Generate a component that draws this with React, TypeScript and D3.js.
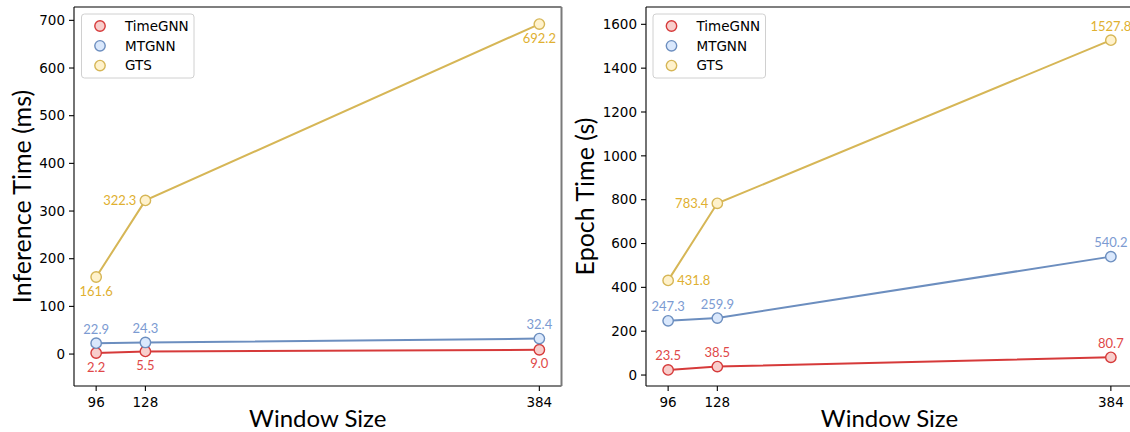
import React from "react";
import * as d3 from "d3";

const windowSizes = [96, 128, 384];
const seriesNames = ["TimeGNN", "MTGNN", "GTS"];

const inferenceTimeGNN = [2.2, 5.5, 9.0];
const inferenceMTGNN = [22.9, 24.3, 32.4];
const inferenceGTS = [161.6, 322.3, 692.2];

const epochTimeGNN = [23.5, 38.5, 80.7];
const epochMTGNN = [247.3, 259.9, 540.2];
const epochGTS = [431.8, 783.4, 1527.8];

const inferenceTicks = [0, 100, 200, 300, 400, 500, 600, 700];
const epochTicks = [0, 200, 400, 600, 800, 1000, 1200, 1400, 1600];

const styles = [
  { line: "#d63a3a", fill: "#f8cecc", edge: "#d63a3a", text: "#e04848" },
  { line: "#6c8ebf", fill: "#dae8fc", edge: "#6c8ebf", text: "#7c9bd2" },
  { line: "#d6b656", fill: "#fff2cc", edge: "#d6b656", text: "#e0b030" },
];

type Place = "above" | "below" | "left" | "right";

interface PanelProps {
  left: number;
  right: number;
  top: number;
  bottom: number;
  yDomain: [number, number];
  ticks: number[];
  data: number[][];
  places: Place[][];
  ylabel: string;
  ylabelX: number;
  rightSpineGray: boolean;
  legendX: number;
}

const TICK_FONT = "'DejaVu Sans', sans-serif";
const LABEL_FONT = "Lato, 'Open Sans', sans-serif";

function Panel(p: PanelProps) {
  const x = d3.scaleLinear().domain([81.6, 398.4]).range([p.left, p.right]);
  const y = d3.scaleLinear().domain(p.yDomain).range([p.bottom, p.top]);
  const line = d3
    .line<number>()
    .x((_, i) => x(windowSizes[i]))
    .y((d) => y(d));
  const off = 14;
  return (
    <g>
      {p.data.map((vals, si) => (
        <path
          key={"l" + si}
          d={line(vals) || ""}
          fill="none"
          stroke={styles[si].line}
          strokeWidth={2}
        />
      ))}
      {p.data.map((vals, si) =>
        vals.map((v, i) => (
          <circle
            key={"c" + si + "-" + i}
            cx={x(windowSizes[i])}
            cy={y(v)}
            r={5.2}
            fill={styles[si].fill}
            stroke={styles[si].edge}
            strokeWidth={1.4}
          />
        ))
      )}
      {p.data.map((vals, si) =>
        vals.map((v, i) => {
          const pl = p.places[si][i];
          const px = x(windowSizes[i]);
          const py = y(v);
          let tx = px;
          let ty = py;
          let anchor: "start" | "middle" | "end" = "middle";
          if (pl === "above") ty = py - off;
          if (pl === "below") ty = py + off;
          if (pl === "left") {
            tx = px - 9;
            anchor = "end";
          }
          if (pl === "right") {
            tx = px + 9;
            anchor = "start";
          }
          return (
            <text
              key={"t" + si + "-" + i}
              x={tx}
              y={ty}
              dy="0.35em"
              textAnchor={anchor}
              fontFamily={LABEL_FONT}
              fontSize={13}
              fill={styles[si].text}
            >
              {v.toFixed(1)}
            </text>
          );
        })
      )}
      <line x1={p.left} x2={p.right} y1={p.top} y2={p.top} stroke="#000" strokeWidth={1.1} />
      <line x1={p.left} x2={p.right} y1={p.bottom} y2={p.bottom} stroke="#000" strokeWidth={1.1} />
      <line x1={p.left} x2={p.left} y1={p.top} y2={p.bottom} stroke="#000" strokeWidth={1.1} />
      <line
        x1={p.right}
        x2={p.right}
        y1={p.top}
        y2={p.bottom}
        stroke={p.rightSpineGray ? "#7a7a7a" : "#000"}
        strokeWidth={p.rightSpineGray ? 2 : 1.1}
      />
      {p.ticks.map((t) => (
        <g key={"yt" + t}>
          <line x1={p.left - 5} x2={p.left} y1={y(t)} y2={y(t)} stroke="#000" strokeWidth={1.1} />
          <text
            x={p.left - 9}
            y={y(t)}
            dy="0.35em"
            textAnchor="end"
            fontFamily={TICK_FONT}
            fontSize={13.5}
            fill="#000"
          >
            {t}
          </text>
        </g>
      ))}
      {windowSizes.map((w) => (
        <g key={"xt" + w}>
          <line x1={x(w)} x2={x(w)} y1={p.bottom} y2={p.bottom + 5} stroke="#000" strokeWidth={1.1} />
          <text
            x={x(w)}
            y={p.bottom + 21}
            textAnchor="middle"
            fontFamily={TICK_FONT}
            fontSize={13.5}
            fill="#000"
          >
            {w}
          </text>
        </g>
      ))}
      <text
        x={(p.left + p.right) / 2}
        y={427}
        textAnchor="middle"
        fontFamily={LABEL_FONT}
        fontSize={24}
        fill="#000"
      >
        Window Size
      </text>
      <text
        transform={`translate(${p.ylabelX},${(p.top + p.bottom) / 2}) rotate(-90)`}
        textAnchor="middle"
        dy="0.35em"
        fontFamily={LABEL_FONT}
        fontSize={25}
        fill="#000"
      >
        {p.ylabel}
      </text>
      <rect
        x={p.legendX}
        y={14}
        width={112.5}
        height={64}
        rx={3}
        fill="#fff"
        fillOpacity={0.85}
        stroke="#d0d0d0"
        strokeWidth={1}
      />
      {seriesNames.map((n, si) => (
        <g key={"lg" + si}>
          <circle
            cx={p.legendX + 18.5}
            cy={26 + si * 19.8}
            r={5.2}
            fill={styles[si].fill}
            stroke={styles[si].edge}
            strokeWidth={1.4}
          />
          <text
            x={p.legendX + 43.5}
            y={26 + si * 19.8}
            dy="0.35em"
            fontFamily={TICK_FONT}
            fontSize={13.5}
            fill="#000"
          >
            {n}
          </text>
        </g>
      ))}
    </g>
  );
}

export default function App() {
  return (
    <svg
      width={1130}
      height={432}
      style={{ position: "absolute", left: 0, top: 0, background: "#fff" }}
    >
      <rect width={1130} height={432} fill="#fff" />
      <Panel
        left={74}
        right={561.5}
        top={7}
        bottom={386}
        yDomain={[-67, 728]}
        ticks={inferenceTicks}
        data={[inferenceTimeGNN, inferenceMTGNN, inferenceGTS]}
        places={[
          ["below", "below", "below"],
          ["above", "above", "above"],
          ["below", "left", "below"],
        ]}
        ylabel="Inference Time (ms)"
        ylabelX={22}
        rightSpineGray={true}
        legendX={81.5}
      />
      <Panel
        left={646}
        right={1133}
        top={7}
        bottom={386}
        yDomain={[-50, 1679]}
        ticks={epochTicks}
        data={[epochTimeGNN, epochMTGNN, epochGTS]}
        places={[
          ["above", "above", "above"],
          ["above", "above", "above"],
          ["right", "left", "above"],
        ]}
        ylabel="Epoch Time (s)"
        ylabelX={585}
        rightSpineGray={false}
        legendX={653}
      />
    </svg>
  );
}
